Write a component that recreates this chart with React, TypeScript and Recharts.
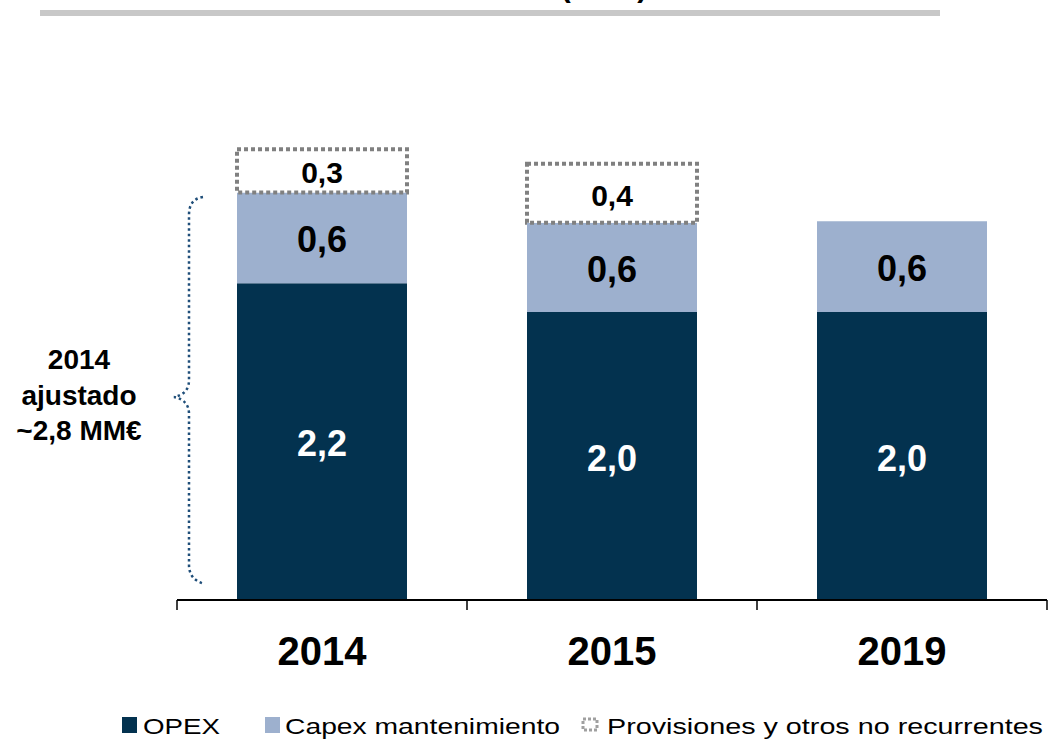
import { BarChart, Bar, XAxis, YAxis, LabelList, ReferenceLine } from 'recharts'

// values (MM€)
const years = ['2014', '2015', '2019']
const opex = [2.2, 2.0, 2.0]
const capex = [0.63, 0.62, 0.63]
const provisiones: (number | null)[] = [0.3, 0.41, null]
const seriesNames = ['OPEX', 'Capex mantenimiento', 'Provisiones y otros no recurrentes']
const bracketLines = ['2014', 'ajustado', '~2,8 MM€']

const data = years.map((year, i) => ({
  year,
  opex: opex[i],
  capex: capex[i],
  prov: provisiones[i],
}))

// category boundaries: start of each band, plus the end of the last one
const boundaries = [
  ...years.map((y) => ({ year: y, pos: 'start' as const })),
  { year: years[years.length - 1], pos: 'end' as const },
]

const FONT = "'Liberation Sans', Arial, Helvetica, sans-serif"
const NAVY = '#03324F'
const LIGHT = '#9DB0CE'
const DASH_GREY = '#808080'

const fmt = (v: number) => v.toFixed(1).replace('.', ',')

function makeLabel(color: string, size: number) {
  return (props: any) => {
    const { value } = props
    if (value == null || value === 0) return null
    const x = Number(props.x)
    const y = Number(props.y)
    const w = Number(props.width)
    const h = Number(props.height)
    return (
      <text
        x={x + w / 2}
        y={y + h / 2 + 2}
        fill={color}
        fontSize={size}
        fontWeight="bold"
        fontFamily={FONT}
        textAnchor="middle"
        dominantBaseline="central"
      >
        {fmt(Number(value))}
      </text>
    )
  }
}

const YearTick = (props: any) => {
  const { x, y, payload } = props
  return (
    <text x={x} y={y} dy={65} textAnchor="middle" fontSize={40} fontWeight="bold" fontFamily={FONT} fill="#000">
      {payload.value}
    </text>
  )
}

// legend layout (positions only)
const legendSlots = [
  { x: 122, textX: 143, textLen: 77 },
  { x: 265, textX: 285, textLen: 275 },
  { x: 583, textX: 607, textLen: 436 },
]

export default function App() {
  return (
    <div style={{ position: 'fixed', top: 0, left: 0, width: 1049, height: 742, background: '#fff', overflow: 'hidden' }}>
      <BarChart
        width={1049}
        height={742}
        data={data}
        margin={{ top: 96, right: 2, left: 177, bottom: 72 }}
      >
        <XAxis
          dataKey="year"
          axisLine={{ stroke: '#000', strokeWidth: 2 }}
          tickLine={false}
          tickSize={0}
          tickMargin={0}
          height={70}
          interval={0}
          tick={YearTick}
        />
        <YAxis hide domain={[0, 3.5]} type="number" />
        {boundaries.map((b) => (
          <ReferenceLine
            key={b.year + b.pos}
            segment={[{ x: b.year, y: 0 }, { x: b.year, y: -0.07 }]}
            position={b.pos}
            ifOverflow="visible"
            stroke="#000"
            strokeWidth={1.5}
          />
        ))}
        <Bar dataKey="opex" stackId="a" fill={NAVY} barSize={170} isAnimationActive={false}>
          <LabelList dataKey="opex" content={makeLabel('#fff', 36)} />
        </Bar>
        <Bar dataKey="capex" stackId="a" fill={LIGHT} barSize={170} isAnimationActive={false}>
          <LabelList dataKey="capex" content={makeLabel('#000', 36)} />
        </Bar>
        <Bar
          dataKey="prov"
          stackId="a"
          fill="#fff"
          stroke={DASH_GREY}
          strokeWidth={4}
          strokeDasharray="4 3"
          barSize={170}
          isAnimationActive={false}
        >
          <LabelList dataKey="prov" content={makeLabel('#000', 30)} />
        </Bar>
      </BarChart>

      <svg width={1049} height={742} style={{ position: 'absolute', top: 0, left: 0, pointerEvents: 'none' }}>
        {/* cut-off title and rule, as in the source */}
        <text x={604} y={-3} textAnchor="middle" fontSize={30} fontWeight="bold" fontFamily={FONT} fill="#000">
          (MM€)
        </text>
        <rect x={40} y={10} width={900} height={6} fill="#C8C8C8" />

        {/* brace for 2014 adjusted */}
        <path
          d="M203,197 Q189,199 189,215 L189,380 Q189,394 174,397 Q189,400 189,414 L189,565 Q189,580 205,584"
          fill="none"
          stroke="#1F4E79"
          strokeWidth={2.5}
          strokeDasharray="2.5 3"
        />
        {bracketLines.map((t, i) => (
          <text key={t} x={79} y={369 + i * 35.5} textAnchor="middle" fontSize={28} fontWeight="bold" fontFamily={FONT} fill="#000">
            {t}
          </text>
        ))}

        {/* legend */}
        {seriesNames.map((name, i) => {
          const s = legendSlots[i]
          return (
            <g key={name}>
              {i < 2 ? (
                <rect x={s.x} y={717} width={15} height={16} fill={i === 0 ? NAVY : LIGHT} />
              ) : (
                <rect x={s.x} y={719} width={14} height={11} fill="none" stroke="#A0A0A0" strokeWidth={3} strokeDasharray="3 2" />
              )}
              <text
                x={s.textX}
                y={734}
                fontSize={22}
                fontFamily={FONT}
                fill="#000"
                textLength={s.textLen}
                lengthAdjust="spacingAndGlyphs"
              >
                {name}
              </text>
            </g>
          )
        })}
      </svg>
    </div>
  )
}
